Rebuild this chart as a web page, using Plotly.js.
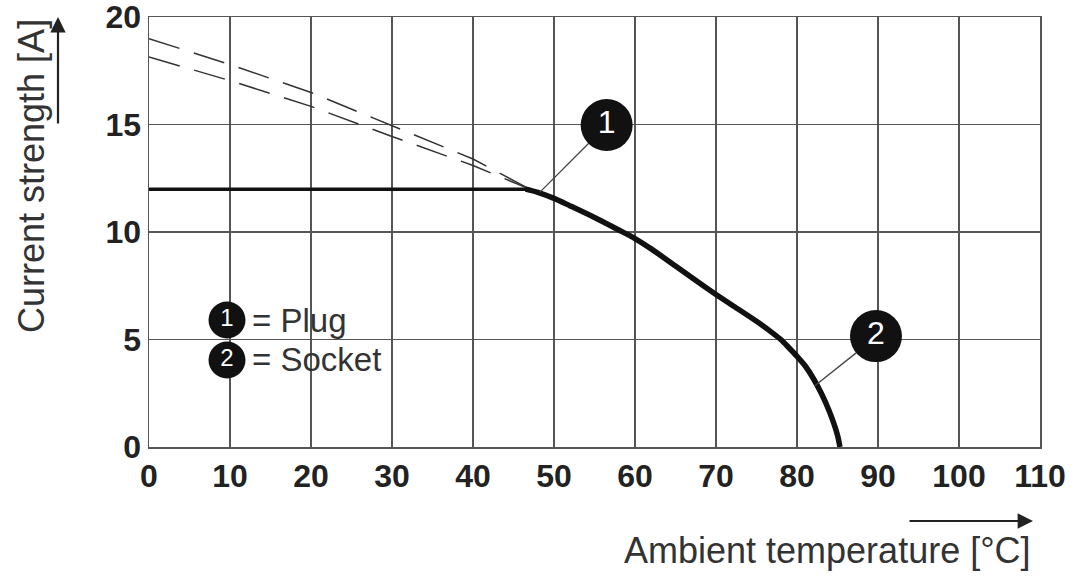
<!DOCTYPE html>
<html>
<head>
<meta charset="utf-8">
<script src="https://cdn.plot.ly/plotly-3.0.1.min.js"></script>
<style>html,body{margin:0;padding:0;background:#fff;}#chart{width:1078px;height:576px;}</style>
</head>
<body>
<div id="chart"></div>
<script>
// Dashed extrapolations (upper / lower)
const dashUpperX = [0, 10, 20, 30, 40, 47];
const dashUpperY = [19.0, 17.8, 16.5, 14.95, 13.4, 12.0];
const dashLowerX = [0, 10, 20, 30, 40, 47];
const dashLowerY = [18.15, 17.05, 15.85, 14.45, 13.1, 12.0];
// Derating curve: flat part and falling part
const flatX = [0, 47];
const flatY = [12, 12];
const curveX = [46.5, 48, 50, 52, 55, 58, 60, 62, 65, 68, 70, 72, 75, 77, 78, 79, 80, 81, 82, 83, 84, 85, 85.3];
const curveY = [12, 11.85, 11.57, 11.22, 10.68, 10.1, 9.7, 9.22, 8.42, 7.62, 7.1, 6.6, 5.85, 5.3, 5.0, 4.62, 4.22, 3.78, 3.2, 2.5, 1.65, 0.55, 0];
// Callouts: circle centres, labels, leader lines
const calloutX = [56.5, 89.75];
const calloutY = [14.98, 5.16];
const calloutLabels = ['1', '2'];
const leader1X = [54.26, 48.27];
const leader1Y = [14.12, 11.86];
const leader2X = [87.31, 82.2];
const leader2Y = [4.38, 2.85];
// Legend key
const keyX = [9.63, 9.63];
const keyY = [5.91, 4.05];
const keyLabels = ['1', '2'];
const keyTexts = ['= Plug', '= Socket'];
const xTicks = [0, 10, 20, 30, 40, 50, 60, 70, 80, 90, 100, 110];
const yTicks = [0, 5, 10, 15, 20];

const ink = '#111';
const traces = [
  {x: dashUpperX, y: dashUpperY, mode: 'lines', line: {color: '#333', width: 1.5, dash: '32px,15px'}, hoverinfo: 'skip'},
  {x: dashLowerX, y: dashLowerY, mode: 'lines', line: {color: '#333', width: 1.5, dash: '32px,15px'}, hoverinfo: 'skip'},
  {x: flatX, y: flatY, mode: 'lines', line: {color: ink, width: 3.5}},
  {x: curveX, y: curveY, mode: 'lines', line: {color: ink, width: 5.5, shape: 'spline', smoothing: 0.8}},
  {x: leader1X, y: leader1Y, mode: 'lines', line: {color: '#444', width: 1.3}},
  {x: leader2X, y: leader2Y, mode: 'lines', line: {color: '#444', width: 1.3}},
  {x: calloutX, y: calloutY, mode: 'markers+text', text: calloutLabels, textposition: 'middle center',
   marker: {size: 52, color: ink}, textfont: {family: 'Liberation Sans, Arial, sans-serif', size: 32, color: '#fff'}, cliponaxis: false},
  {x: keyX, y: keyY, mode: 'markers+text', text: keyLabels, textposition: 'middle center',
   marker: {size: 37, color: ink}, textfont: {family: 'Liberation Sans, Arial, sans-serif', size: 24, color: '#fff'}}
];

const fontFam = 'Liberation Sans, Arial, Helvetica, sans-serif';
const px = v => (v - 149) / 891;
const py = v => (447 - v) / 430;

const layout = {
  width: 1078, height: 576,
  margin: {l: 149, r: 38, t: 17, b: 129},
  paper_bgcolor: '#fff', plot_bgcolor: '#fff',
  showlegend: false,
  xaxis: {range: [0, 110], tickvals: xTicks, ticktext: xTicks.map(String), showgrid: true, gridcolor: '#555', gridwidth: 1.3,
          zeroline: false, showline: true, mirror: true, linecolor: '#555', linewidth: 1.5, ticks: '',
          tickfont: {family: fontFam, size: 32, weight: 700, color: '#222'}, ticklabelstandoff: 0, ticklabeloverflow: 'allow', fixedrange: true},
  yaxis: {range: [0, 20.01], tickvals: yTicks, ticktext: yTicks.map(String), showgrid: true, gridcolor: '#555', gridwidth: 1.3,
          zeroline: false, showline: true, mirror: true, linecolor: '#555', linewidth: 1.5, ticks: '',
          tickfont: {family: fontFam, size: 32, weight: 700, color: '#222'}, ticklabeloverflow: 'allow', fixedrange: true},
  shapes: [
    {type: 'rect', layer: 'between', xref: 'paper', yref: 'paper', x0: px(193), x1: px(540), y0: py(383), y1: py(295),
     fillcolor: '#fff', line: {width: 0}}
  ],
  annotations: [
    {xref: 'paper', yref: 'paper', x: px(1033), y: py(550), xanchor: 'right', yanchor: 'middle', showarrow: false,
     text: 'Ambient temperature [°C]', font: {family: fontFam, size: 36, color: '#333'}},
    {xref: 'paper', yref: 'paper', x: px(32), y: py(176), xanchor: 'center', yanchor: 'middle', showarrow: false, textangle: -90,
     text: 'Current strength [A]', font: {family: fontFam, size: 36, color: '#333'}},
    {xref: 'paper', yref: 'paper', x: px(1033), y: py(521), showarrow: true, text: '', ax: -125, ay: 0,
     arrowhead: 2, arrowsize: 1.4, arrowwidth: 2.2, arrowcolor: '#222'},
    {xref: 'paper', yref: 'paper', x: px(58), y: py(17), showarrow: true, text: '', ax: 0, ay: 108,
     arrowhead: 2, arrowsize: 1.4, arrowwidth: 2.2, arrowcolor: '#222'},
    {xref: 'paper', yref: 'paper', x: px(250), y: py(320), xanchor: 'left', yanchor: 'middle', showarrow: false,
     text: keyTexts[0], font: {family: fontFam, size: 33, color: '#333'}},
    {xref: 'paper', yref: 'paper', x: px(250), y: py(359), xanchor: 'left', yanchor: 'middle', showarrow: false,
     text: keyTexts[1], font: {family: fontFam, size: 33, color: '#333'}}
  ]
};

Plotly.newPlot('chart', traces, layout, {displayModeBar: false, staticPlot: true});
</script>
</body>
</html>
